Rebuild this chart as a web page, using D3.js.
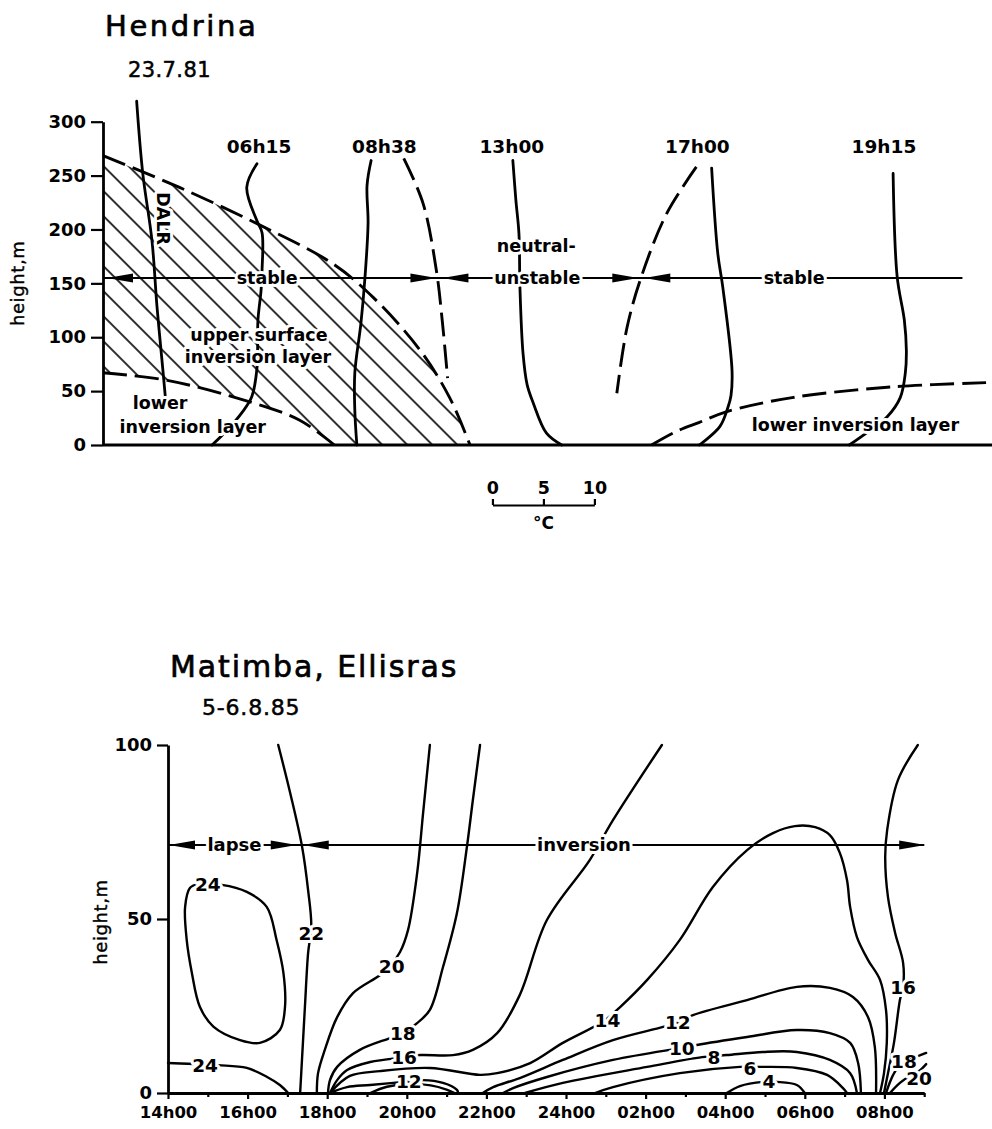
<!DOCTYPE html>
<html><head><meta charset="utf-8">
<script src="https://cdn.jsdelivr.net/npm/d3@7"></script>
<style>
body{margin:0;background:#fff}
svg{display:block;background:#fff}
text{font-family:"DejaVu Sans",sans-serif;fill:#000}
</style></head><body>
<svg id="chart" width="992" height="1129"></svg>
<script>
// ===================== DATA: Hendrina 23.7.81 =====================
// x: temperature offset (°C, 10 °C per scale bar), y: height (m)
const hendrinaTitle = "Hendrina";
const hendrinaDate = "23.7.81";
const topHeightTicks = [0, 50, 100, 150, 200, 250, 300];
const profileNames = ["06h15", "08h38", "13h00", "17h00", "19h15"];
const profileNameAt = [15.3, 27.6, 40.1, 58.3, 76.6];
const profileNameHeight = 277;
const dalr = [[3.3,319],[3.9,252],[4.8,190],[5.3,128],[5.9,67],[6.1,46]];
const p0615 = [[15.1,261],[14.1,239],[15.1,208],[15.6,197],[15.6,162],[15.5,143],[15.2,116],[15.1,71],[14.6,45],[13.7,31],[12.0,12],[10.7,0]];
const p0838 = [[26.3,264],[25.9,241],[26.0,206],[25.7,156],[25.3,113],[24.7,67],[24.7,32],[24.9,0]];
const p0838dash = [[29.5,266],[31.4,224],[32.7,162],[33.3,113],[33.8,62]];
const p1300 = [[40.2,264],[40.5,227],[40.8,196],[40.9,145],[41.2,85],[41.6,56],[42.2,39],[43.5,11],[45.0,0]];
const p1700 = [[59.7,257],[60.3,178],[60.8,146],[61.7,69],[61.6,46],[61.3,35],[60.5,17],[58.5,0]];
const p1700dash = [[58.2,258],[55.3,215],[52.8,156],[51.4,109],[50.4,48]];
const p1915 = [[77.5,252],[77.9,156],[78.6,116],[78.8,88],[78.7,67],[78.2,44],[76.9,26],[75.0,12],[73.2,0]];
const upperLayerTop = [[0,268.5],[7.5,239],[15.4,204],[22.5,168.5],[26.5,137],[31.1,88],[34,44],[36,0]];
const lowerLayerTopLeft = [[0,67],[6.3,60],[14.4,40],[19.3,23],[22.7,0]];
const lowerLayerTopRight = [[53.8,0],[56.1,12],[58.5,21],[61.2,31],[67.6,44],[77.5,54],[87.2,58]];
const topStabilityHeight = 155;
const topStabilityRange = [0, 84.3];
const topStabilityBounds = [33.0, 52.8];
const topLabels = [
  {text:"stable", u:16.1, h:155},
  {text:"neutral-", u:42.5, h:185},
  {text:"unstable", u:42.6, h:155},
  {text:"stable", u:67.8, h:155},
  {text:"upper surface", u:15.3, h:102},
  {text:"inversion layer", u:15.2, h:81.5},
  {text:"lower", u:5.6, h:39},
  {text:"inversion layer", u:8.8, h:17},
  {text:"lower inversion layer", u:73.8, h:18.5}
];
const dalrLabel = {text:"DALR", u:5.9, h:210};
const scaleBarStart = 38.2;
const scaleBarTicks = [0, 5, 10];
const scaleBarUnit = "°C";

// ===================== DATA: Matimba, Ellisras 5-6.8.85 =====================
// x: hour (14 = 14h00 ... 32 = 08h00 next day), y: height (m), labels: °C
const matimbaTitle = "Matimba, Ellisras";
const matimbaDate = "5-6.8.85";
const botHeightTicks = [0, 50, 100];
const hourTicks = [14, 16, 18, 20, 22, 24, 26, 28, 30, 32];
const hourTickLabels = ["14h00","16h00","18h00","20h00","22h00","24h00","02h00","04h00","06h00","08h00"];
const minorHourTicks = [15, 17, 19, 21, 23, 25, 27, 29, 31, 33];
const iso24loop = [[15.35,59.8],[15.98,57.8],[16.48,53.5],[16.73,43.9],[16.90,34.5],[16.94,24.8],[16.81,18.1],[16.31,14.4],[15.81,15.2],[15.14,19.1],[14.80,24.8],[14.60,34.5],[14.47,44.0],[14.43,53.5],[14.55,58.9],[14.75,60.0]];
const iso24low = [[14.0,8.6],[14.5,8.4],[15.26,8.0],[15.98,7.2],[16.49,4.6],[16.81,2.3],[17.02,0]];
const iso22 = [[16.77,100],[17.07,86.2],[17.37,70.7],[17.52,58.3],[17.60,48],[17.52,40.2],[17.44,24.7],[17.37,10.3],[17.32,0]];
const iso20 = [[20.58,100],[20.41,80.5],[20.26,63.2],[20.03,46.8],[19.83,40.5],[19.60,36.8],[19.33,33.9],[18.65,28.7],[18.25,21.8],[17.94,12.4],[17.77,5.7],[17.74,0]];
const iso18 = [[21.84,100],[21.66,84.2],[21.51,70.7],[21.26,51.7],[20.91,36.2],[20.58,23.9],[20.26,20.1],[19.90,17.2],[19.58,15.8],[18.82,12.4],[18.25,7.5],[18.07,3.7],[18.02,0]];
const iso16 = [[18.07,0],[18.25,3.7],[18.50,6.6],[19.08,8.9],[19.95,10.3],[20.33,10.9],[21.16,10.9],[21.66,12.4],[22.27,17.2],[22.84,28.2],[23.52,49.7],[24.60,67.0],[25.18,78.4],[26.41,100]];
const iso14 = [[18.07,0],[18.57,4.9],[19.33,6.3],[20.58,7.2],[21.84,5.2],[22.27,5.7],[23.10,8.6],[23.92,14.4],[24.95,20.7],[25.36,24.7],[26.04,32.5],[26.86,44.0],[27.69,59.2],[28.55,69.8],[29.20,74.7],[29.75,76.7],[30.26,76.4],[30.63,74.1],[30.88,69.0],[31.06,61.2],[31.14,53.4],[31.31,44.8],[31.59,38.2],[31.89,32.5],[32.04,23.9],[32.06,14.4],[31.99,5.7],[31.89,0]];
const iso12low = [[18.07,0],[18.50,1.7],[19.08,2.3],[20.05,3.3],[20.41,3.7],[20.91,2.9],[21.26,0.9],[21.29,0]];
const iso12inner = [[19.08,0],[19.5,1.8],[20.0,2.6],[20.6,2.2],[21.0,1.0],[21.2,0]];
const iso12 = [[21.91,0],[22.17,1.7],[22.84,4.3],[23.92,9.5],[25.18,15.2],[26.44,19.0],[26.81,20.3],[27.19,22.4],[28.55,26.7],[29.80,30.5],[30.63,30.2],[31.21,27.6],[31.59,21.8],[31.76,13.2],[31.79,0]];
const iso10 = [[22.42,0],[22.67,1.4],[23.52,4.6],[25.18,9.5],[26.61,12.4],[26.91,12.9],[27.29,13.8],[28.55,16.1],[29.80,18.1],[30.63,17.2],[31.14,14.4],[31.34,8.6],[31.41,0]];
const iso8 = [[22.97,0],[23.92,2.9],[26.04,7.5],[27.42,10.3],[28.04,10.9],[28.95,11.8],[29.80,11.8],[30.63,9.5],[31.14,5.7],[31.31,0]];
const iso6 = [[24.73,0],[25.18,1.7],[26.86,5.7],[28.37,7.5],[28.87,7.5],[29.80,7.2],[30.56,5.2],[30.96,1.4],[31.06,0]];
const iso4 = [[28.04,0],[28.37,2.0],[28.95,3.2],[29.30,3.2],[29.80,2.3],[30.0,0]];
const iso16r = [[32.84,100],[32.34,89.9],[32.07,75.6],[32.02,67.8],[32.09,56.3],[32.27,46.0],[32.47,37.4],[32.47,30.5],[32.39,26.7],[32.24,14.4],[32.09,5.7],[31.99,0]];
const iso18r = [[32.04,0],[32.22,5.2],[32.39,8.0],[32.69,9.8],[33.05,11.5]];
const iso20r = [[32.14,0],[32.39,2.9],[32.64,4.9],[32.87,6.3],[33.05,8.3]];
const isoLabels = [
  {text:"24", t:15.0, h:60.0}, {text:"24", t:14.93, h:8.0}, {text:"22", t:17.60, h:46},
  {text:"20", t:19.62, h:36.5}, {text:"18", t:19.90, h:17.2}, {text:"16", t:19.93, h:10.3},
  {text:"14", t:25.04, h:21.0}, {text:"12", t:26.81, h:20.3}, {text:"10", t:26.91, h:12.8},
  {text:"8", t:27.72, h:10.2}, {text:"6", t:28.62, h:7.0}, {text:"4", t:29.10, h:3.4},
  {text:"12", t:20.05, h:3.3}, {text:"16", t:32.47, h:30.5}, {text:"18", t:32.49, h:9.1},
  {text:"20", t:32.87, h:4.3}
];
const botStabilityHeight = 71.3;
const botStabilityRange = [14, 33.0];
const botStabilityBound = 17.31;
const botLabels = [{text:"lapse", t:15.67, h:71.3}, {text:"inversion", t:24.45, h:71.3}];

// ===================== DRAWING =====================
const svg = d3.select("#chart");
const defs = svg.append("defs");
defs.append("pattern").attr("id","hatch").attr("patternUnits","userSpaceOnUse")
  .attr("width",20).attr("height",17.7).attr("patternTransform","rotate(45)")
  .append("line").attr("x1",0).attr("x2",20).attr("y1",8.85).attr("y2",8.85)
  .attr("stroke","#000").attr("stroke-width",1.6);

function plainText(g, txt, x, y, size, ls, embolden){
  return g.append("text").attr("x",x).attr("y",y).attr("font-size",size)
    .attr("letter-spacing",ls).attr("stroke","#000").attr("stroke-width",embolden).text(txt);
}
function haloText(g, txt, x, y, size, transform){
  const t = g.append("text").attr("x",x).attr("y",y).attr("dy","0.36em")
    .attr("text-anchor","middle").attr("font-size",size).attr("font-weight","bold")
    .attr("stroke","#fff").attr("stroke-width",6).attr("stroke-linejoin","round")
    .attr("paint-order","stroke").text(txt);
  if (transform) t.attr("transform", transform);
  return t;
}
function arrowHead(g, xTip, y, dir){
  const L = 26, W = 4.5;
  g.append("path").attr("d", `M${xTip},${y}L${xTip - dir*L},${y - W}L${xTip - dir*L},${y + W}Z`).attr("fill","#000");
}

// ---------- TOP CHART ----------
const xTop = d3.scaleLinear().domain([0, 87.2]).range([103, 992]);
const yTop = d3.scaleLinear().domain([0, 300]).range([445, 121.7]);
const gTop = svg.append("g");
plainText(gTop, hendrinaTitle, 105, 36, 29, 2.6, 0.7);
plainText(gTop, hendrinaDate, 128, 77, 21, 0.4, 0.5);

const lineTop = d3.line().x(d => xTop(d[0])).y(d => yTop(d[1])).curve(d3.curveCatmullRom.alpha(0.5));
const regionPath = lineTop(upperLayerTop) + lineTop(lowerLayerTopLeft.slice().reverse()).replace(/^M/, "L") + "Z";
gTop.append("path").attr("d", regionPath).attr("fill","url(#hatch)").attr("stroke","none");

const solidProfiles = [dalr, p0615, p0838, p1300, p1700, p1915];
const dashedLines = [p0838dash, p1700dash, upperLayerTop, lowerLayerTopLeft, lowerLayerTopRight];
gTop.selectAll("path.solid").data(solidProfiles).join("path").attr("class","solid")
  .attr("d", lineTop).attr("fill","none").attr("stroke","#000").attr("stroke-width",2.8).attr("stroke-linecap","round");
gTop.selectAll("path.dash").data(dashedLines).join("path").attr("class","dash")
  .attr("d", lineTop).attr("fill","none").attr("stroke","#000").attr("stroke-width",2.9).attr("stroke-dasharray","24,8");

const ys = yTop(topStabilityHeight);
gTop.append("line").attr("x1", xTop(topStabilityRange[0])).attr("x2", xTop(topStabilityRange[1]))
  .attr("y1", ys).attr("y2", ys).attr("stroke","#000").attr("stroke-width",2);
arrowHead(gTop, xTop(topStabilityRange[0]) + 4, ys, -1);
topStabilityBounds.forEach(b => { arrowHead(gTop, xTop(b) - 3, ys, 1); arrowHead(gTop, xTop(b) + 3, ys, -1); });

topLabels.forEach(l => haloText(gTop, l.text, xTop(l.u), yTop(l.h), 17.5));
const dlx = xTop(dalrLabel.u), dly = yTop(dalrLabel.h);
haloText(gTop, dalrLabel.text, dlx, dly, 17.5, `rotate(90,${dlx},${dly})`);
profileNames.forEach((n, i) => haloText(gTop, n, xTop(profileNameAt[i]), yTop(profileNameHeight), 18.5));

const yAxisTop = gTop.append("g").attr("transform", `translate(${xTop(0)},0)`)
  .call(d3.axisLeft(yTop).tickValues(topHeightTicks).tickSize(12).tickSizeOuter(0).tickPadding(5));
gTop.append("line").attr("x1", xTop(0)).attr("x2", xTop(87.2)).attr("y1", yTop(0)).attr("y2", yTop(0))
  .attr("stroke","#000").attr("stroke-width",2.8);
gTop.append("text").attr("transform", `translate(24,${(yTop(0)+yTop(300))/2}) rotate(-90)`)
  .attr("text-anchor","middle").attr("font-size",18).attr("letter-spacing",0.6)
  .attr("stroke","#000").attr("stroke-width",0.4).text("height,m");

const sb = d3.scaleLinear().domain([0, 10]).range([xTop(scaleBarStart), xTop(scaleBarStart + 10)]);
const sbG = gTop.append("g").attr("transform","translate(0,505)")
  .call(d3.axisTop(sb).tickValues(scaleBarTicks).tickSize(6).tickSizeOuter(0).tickPadding(5));
sbG.attr("font-family",null).attr("font-size",null);
sbG.selectAll("text").attr("font-size",17.5).attr("font-weight","bold");
sbG.selectAll("line,path").attr("stroke-width",2.2);
gTop.append("text").attr("x", sb(5)).attr("y", 529).attr("text-anchor","middle")
  .attr("font-size",17).attr("font-weight","bold").text(scaleBarUnit);

// ---------- BOTTOM CHART ----------
const xBot = d3.scaleLinear().domain([14, 33]).range([168, 924.2]);
const yBot = d3.scaleLinear().domain([0, 100]).range([1093, 745]);
const gBot = svg.append("g");
plainText(gBot, matimbaTitle, 170, 677, 30, 1.9, 0.7);
plainText(gBot, matimbaDate, 202, 715, 22, 0.8, 0.5);

const lineBot = d3.line().x(d => xBot(d[0])).y(d => yBot(d[1])).curve(d3.curveCatmullRom.alpha(0.5));
const loopBot = d3.line().x(d => xBot(d[0])).y(d => yBot(d[1])).curve(d3.curveCatmullRomClosed.alpha(0.5));
const isolines = [iso24low, iso22, iso20, iso18, iso16, iso14, iso12low, iso12inner, iso12, iso10, iso8, iso6, iso4, iso16r, iso18r, iso20r];
gBot.selectAll("path.iso").data(isolines).join("path").attr("class","iso")
  .attr("d", lineBot).attr("fill","none").attr("stroke","#000").attr("stroke-width",2.4).attr("stroke-linecap","round");
gBot.append("path").attr("d", loopBot(iso24loop)).attr("fill","none").attr("stroke","#000").attr("stroke-width",2.4);

const yb = yBot(botStabilityHeight);
gBot.append("line").attr("x1", xBot(botStabilityRange[0])).attr("x2", xBot(botStabilityRange[1]))
  .attr("y1", yb).attr("y2", yb).attr("stroke","#000").attr("stroke-width",2);
arrowHead(gBot, xBot(botStabilityRange[0]) + 1, yb, -1);
arrowHead(gBot, xBot(botStabilityBound) - 3, yb, 1);
arrowHead(gBot, xBot(botStabilityBound) + 3, yb, -1);
arrowHead(gBot, xBot(botStabilityRange[1]) + 1, yb, 1);
botLabels.forEach(l => haloText(gBot, l.text, xBot(l.t), yBot(l.h), 18));
isoLabels.forEach(l => haloText(gBot, l.text, xBot(l.t), yBot(l.h), 18.5));

const yAxisBot = gBot.append("g").attr("transform", `translate(${xBot(14)},0)`)
  .call(d3.axisLeft(yBot).tickValues(botHeightTicks).tickSize(11).tickSizeOuter(0).tickPadding(5));
const xAxisBot = gBot.append("g").attr("transform", `translate(0,${yBot(0)})`)
  .call(d3.axisBottom(xBot).tickValues(hourTicks).tickFormat((d, i) => hourTickLabels[i]).tickSize(6).tickSizeOuter(0).tickPadding(7));
const xMinorBot = gBot.append("g").attr("transform", `translate(0,${yBot(0)})`)
  .call(d3.axisBottom(xBot).tickValues(minorHourTicks).tickFormat("").tickSize(4).tickSizeOuter(0));
xMinorBot.select(".domain").remove();
gBot.append("text").attr("transform", `translate(107,${(yBot(0)+yBot(100))/2 + 3}) rotate(-90)`)
  .attr("text-anchor","middle").attr("font-size",18).attr("letter-spacing",0.6)
  .attr("stroke","#000").attr("stroke-width",0.4).text("height,m");

[yAxisTop, yAxisBot, xAxisBot, xMinorBot].forEach(g => {
  g.attr("font-family", null).attr("font-size", null);
  g.selectAll("text").attr("font-size", 18).attr("font-weight","bold");
  g.selectAll("path.domain").attr("stroke-width", 2.8);
  g.selectAll(".tick line").attr("stroke-width", 2.2);
});
xAxisBot.selectAll("text").attr("font-size", 16.5);
</script>
</body></html>
